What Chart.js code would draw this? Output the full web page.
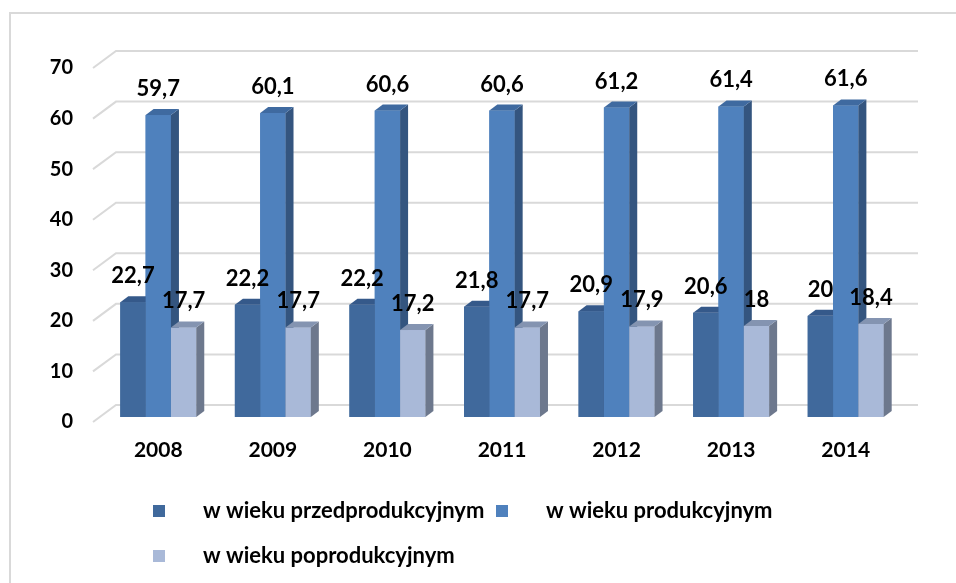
<!DOCTYPE html>
<html lang="pl">
<head>
    <meta charset="UTF-8">
    <title>Struktura ludności wg ekonomicznych grup wieku</title>
    <script src="https://cdn.jsdelivr.net/npm/chart.js"></script>
    <style>
        html, body { margin: 0; padding: 0; background: #fff; }
        .wrap { width: 956px; height: 583px; }
    </style>
</head>
<body>
    <div class="wrap">
        <canvas id="myChart" width="956" height="583"></canvas>
    </div>

    <script>
        // Data (percent of population)
        var years = ['2008', '2009', '2010', '2011', '2012', '2013', '2014'];
        var przedprodukcyjny = [22.7, 22.2, 22.2, 21.8, 20.9, 20.6, 20];
        var produkcyjny = [59.7, 60.1, 60.6, 60.6, 61.2, 61.4, 61.6];
        var poprodukcyjny = [17.7, 17.7, 17.2, 17.7, 17.9, 18, 18.4];
        var seriesNames = ['w wieku przedprodukcyjnym', 'w wieku produkcyjnym', 'w wieku poprodukcyjnym'];
        var yMin = 0, yMax = 70, yStep = 10;

        // Face colours for the fake 3D bars
        var frontColors = ['#40699c', '#4f81bd', '#a9b9d8'];
        var sideColors = ['#2c4a70', '#34557f', '#6d788d'];
        var topColors = ['#35598a', '#3f6aa0', '#8494b1'];

        var DEPTH_X = 8, DEPTH_Y = 6;
        var FONT = 'Lato, "Open Sans", "DejaVu Sans", sans-serif';

        Chart.defaults.font.family = FONT;
        Chart.defaults.color = '#000';

        // white background + light frame around the chart
        var framePlugin = {
            id: 'frame',
            beforeDraw: function(chart) {
                var ctx = chart.ctx;
                ctx.save();
                ctx.fillStyle = '#fff';
                ctx.fillRect(0, 0, chart.width, chart.height);
                ctx.strokeStyle = '#d9d9d9';
                ctx.lineWidth = 2;
                ctx.strokeRect(10, 13, chart.width + 20, chart.height + 20);
                ctx.restore();
            }
        };

        // back wall gridlines with the little diagonal on the left
        var wallGridPlugin = {
            id: 'wallGrid',
            beforeDatasetsDraw: function(chart) {
                var ctx = chart.ctx;
                var yScale = chart.scales.y;
                var area = chart.chartArea;
                ctx.save();
                ctx.strokeStyle = '#d9d9d9';
                ctx.lineWidth = 2;
                yScale.ticks.forEach(function(t) {
                    var yf = yScale.getPixelForValue(t.value);
                    ctx.beginPath();
                    ctx.moveTo(area.left - 8, yf + 5);
                    ctx.lineTo(area.left + 15, yf - 12);
                    ctx.lineTo(area.right + 15, yf - 12);
                    ctx.stroke();
                });
                ctx.restore();
            }
        };

        // redraw each group left to right as 3D blocks (front, side, top)
        var bar3dPlugin = {
            id: 'bar3d',
            afterDatasetsDraw: function(chart) {
                var ctx = chart.ctx;
                var metas = chart.data.datasets.map(function(ds, i) { return chart.getDatasetMeta(i); });
                ctx.save();
                for (var j = 0; j < years.length; j++) {
                    for (var i = 0; i < metas.length; i++) {
                        var p = metas[i].data[j].getProps(['x', 'y', 'base', 'width'], true);
                        var l = p.x - p.width / 2, r = p.x + p.width / 2;
                        ctx.fillStyle = frontColors[i];
                        ctx.fillRect(l, p.y, p.width, p.base - p.y);
                        ctx.fillStyle = sideColors[i];
                        ctx.beginPath();
                        ctx.moveTo(r, p.base);
                        ctx.lineTo(r, p.y);
                        ctx.lineTo(r + DEPTH_X, p.y - DEPTH_Y);
                        ctx.lineTo(r + DEPTH_X, p.base - DEPTH_Y);
                        ctx.closePath();
                        ctx.fill();
                        ctx.fillStyle = topColors[i];
                        ctx.beginPath();
                        ctx.moveTo(l, p.y);
                        ctx.lineTo(r, p.y);
                        ctx.lineTo(r + DEPTH_X, p.y - DEPTH_Y);
                        ctx.lineTo(l + DEPTH_X, p.y - DEPTH_Y);
                        ctx.closePath();
                        ctx.fill();
                    }
                }

                // value labels, polish decimal comma
                ctx.font = 'bold 22px ' + FONT;
                ctx.fillStyle = '#000';
                ctx.textAlign = 'center';
                ctx.textBaseline = 'alphabetic';
                chart.data.datasets.forEach(function(ds, i) {
                    metas[i].data.forEach(function(bar, j) {
                        var txt = String(ds.data[j]).replace('.', ',');
                        ctx.fillText(txt, bar.x, bar.y - 19);
                    });
                });
                ctx.restore();
            }
        };

        // legend laid out like the original (two items, then one)
        var legendPlugin = {
            id: 'customLegend',
            afterDraw: function(chart) {
                var ctx = chart.ctx;
                var items = [
                    { x: 153, y: 511 },
                    { x: 496, y: 511 },
                    { x: 153, y: 556 }
                ];
                ctx.save();
                ctx.font = 'bold 22px ' + FONT;
                ctx.textBaseline = 'middle';
                ctx.textAlign = 'left';
                items.forEach(function(it, i) {
                    ctx.fillStyle = frontColors[i];
                    ctx.fillRect(it.x, it.y - 6, 12, 12);
                    ctx.fillStyle = '#000';
                    ctx.fillText(seriesNames[i], it.x + 50, it.y);
                });
                ctx.restore();
            }
        };

        var ctx = document.getElementById('myChart').getContext('2d');
        var myChart = new Chart(ctx, {
            type: 'bar',
            data: {
                labels: years,
                datasets: [
                    { label: seriesNames[0], data: przedprodukcyjny, backgroundColor: frontColors[0] },
                    { label: seriesNames[1], data: produkcyjny, backgroundColor: frontColors[1] },
                    { label: seriesNames[2], data: poprodukcyjny, backgroundColor: frontColors[2] }
                ]
            },
            options: {
                responsive: false,
                animation: false,
                categoryPercentage: 0.663,
                barPercentage: 1.0,
                layout: { padding: { left: 20, right: 53, top: 63, bottom: 0 } },
                plugins: {
                    legend: { display: false },
                    tooltip: { enabled: false }
                },
                scales: {
                    x: {
                        grid: { display: false, drawTicks: false },
                        border: { display: false },
                        ticks: { font: { size: 21, weight: 'bold' }, color: '#000', padding: 21 },
                        afterFit: function(scale) { scale.height = 166; }
                    },
                    y: {
                        min: yMin,
                        max: yMax,
                        grid: { display: false, drawTicks: false },
                        border: { display: false },
                        ticks: { stepSize: yStep, font: { size: 20, weight: 'bold' }, color: '#000', padding: 28, labelOffset: 5 },
                        afterFit: function(scale) { scale.width = 81; }
                    }
                }
            },
            plugins: [framePlugin, wallGridPlugin, bar3dPlugin, legendPlugin]
        });
    </script>
</body>
</html>
